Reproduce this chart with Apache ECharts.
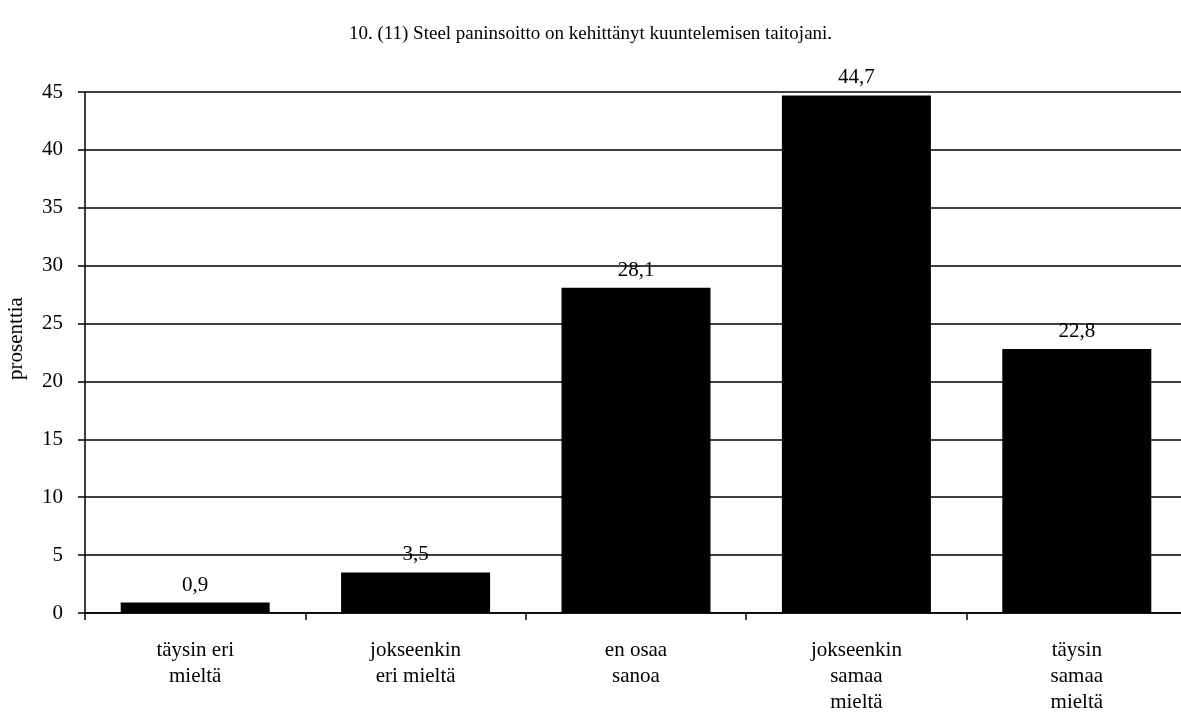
<!DOCTYPE html>
<html><head><meta charset="utf-8">
<script src="https://cdn.jsdelivr.net/npm/echarts@6/dist/echarts.min.js"></script>
<style>html,body{margin:0;padding:0;background:#fff}#c{width:1181px;height:716px}</style>
</head><body><div id="c"></div>
<script>
const titleText = '10. (11) Steel paninsoitto on kehittänyt kuuntelemisen taitojani.';
const categories = ['täysin eri\nmieltä', 'jokseenkin\neri mieltä', 'en osaa\nsanoa', 'jokseenkin\nsamaa\nmieltä', 'täysin\nsamaa\nmieltä'];
const values = [0.9, 3.5, 28.1, 44.7, 22.8];
const yTicks = {min: 0, max: 45, interval: 5};
const yName = 'prosenttia';

const font = '"Liberation Serif", "Times New Roman", serif';
const chart = echarts.init(document.getElementById('c'), null, {renderer: 'canvas'});
chart.setOption({
  animation: false,
  backgroundColor: '#fff',
  title: {text: titleText, left: 'center', top: 20, textStyle: {fontFamily: font, fontSize: 19, fontWeight: 'normal', color: '#000'}},
  grid: {left: 85, right: -6, top: 92, bottom: 103, outerBoundsMode: 'none', containLabel: false},
  xAxis: {
    type: 'category', data: categories,
    axisLine: {lineStyle: {color: '#000', width: 1.5}},
    axisTick: {show: true, alignWithLabel: false, length: 7, inside: false, lineStyle: {color: '#000', width: 1.5}},
    axisLabel: {fontFamily: font, fontSize: 21, color: '#000', margin: 24, lineHeight: 26, interval: 0}
  },
  yAxis: {
    type: 'value', min: yTicks.min, max: yTicks.max, interval: yTicks.interval,
    name: yName, nameLocation: 'middle', nameGap: 58, nameRotate: 90,
    nameTextStyle: {fontFamily: font, fontSize: 21, color: '#000', padding: [0, 0, 0, 28]},
    axisLine: {show: true, lineStyle: {color: '#000', width: 1.5}},
    axisTick: {show: true, length: 7, lineStyle: {color: '#000', width: 1.5}},
    axisLabel: {fontFamily: font, fontSize: 21, color: '#000', margin: 22},
    splitLine: {show: true, lineStyle: {color: '#000', width: 1.5}}
  },
  series: [{
    type: 'bar', data: values, barWidth: 149,
    itemStyle: {color: '#000'},
    label: {show: true, position: 'top', distance: 7, fontFamily: font, fontSize: 21, color: '#000',
      formatter: p => String(p.value).replace('.', ',')}
  }]
});
</script></body></html>
